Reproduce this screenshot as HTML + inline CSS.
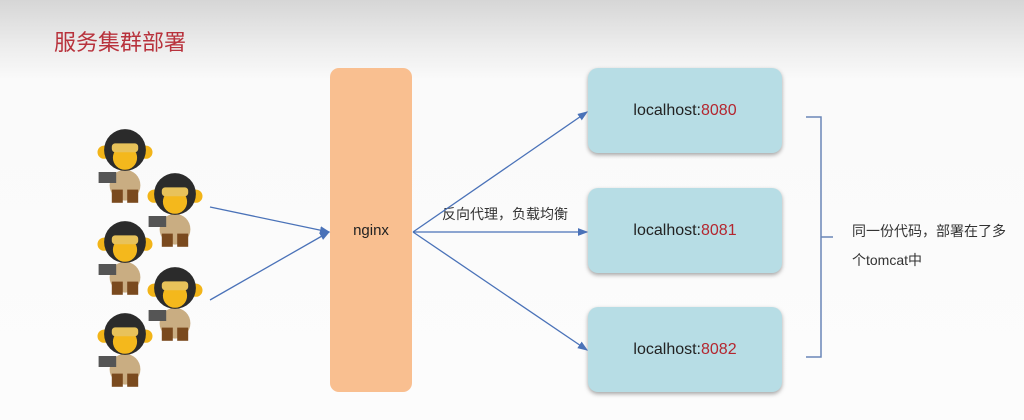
<!DOCTYPE html>
<html><head><meta charset="utf-8"><style>
body{margin:0;width:1024px;height:420px;overflow:hidden;font-family:"Liberation Sans","Noto Sans CJK SC",sans-serif;background:linear-gradient(#d6d6d6 0px,#ececec 45px,#fafafa 80px,#fcfcfc 420px);position:relative}
.t{position:absolute;left:54px;top:25px;font-size:22px;color:#b8323c}
.ng{position:absolute;left:330px;top:68px;width:82px;height:324px;background:#f9bf90;border-radius:9px}
.ng span{position:absolute;top:154px;width:100%;text-align:center;font-size:15px;color:#222}
.lb{position:absolute;left:588px;width:194px;height:85px;background:#b7dde5;border-radius:10px;box-shadow:0 2px 4px rgba(0,0,0,.35);font-size:16px;color:#222;text-align:center;line-height:85px}
.lb b{font-weight:normal;color:#b4262f}
.tx{position:absolute;font-size:14px;color:#333}
</style></head><body>
<div class="t">服务集群部署</div>
<div class="ng"><span>nginx</span></div>
<div class="lb" style="top:68px">localhost:<b>8080</b></div>
<div class="lb" style="top:188px">localhost:<b>8081</b></div>
<div class="lb" style="top:307px">localhost:<b>8082</b></div>
<div class="tx" style="left:442px;top:204px">反向代理，负载均衡</div>
<div class="tx" style="left:852px;top:221px">同一份代码，部署在了多</div>
<div class="tx" style="left:852px;top:250px">个tomcat中</div>
<svg width="1024" height="420" style="position:absolute;left:0;top:0">
<defs><marker id="a" markerWidth="8" markerHeight="8" refX="7" refY="4" orient="auto"><path d="M0,1 L8,4 L0,7z" fill="#4a72b8"/></marker>
<g id="m" transform="scale(1.1)">
<ellipse cx="0" cy="52" rx="14" ry="14" fill="#c9ad82"/>
<rect x="-12" y="56" width="10" height="12" fill="#7a4a1e"/><rect x="2" y="56" width="10" height="12" fill="#7a4a1e"/>
<rect x="-24" y="40" width="16" height="10" fill="#555"/>
<circle cx="-19" cy="22" r="6" fill="#f2b418"/><circle cx="19" cy="22" r="6" fill="#f2b418"/>
<circle cx="0" cy="20" r="19" fill="#2b2b2b"/>
<ellipse cx="0" cy="27" rx="11" ry="11" fill="#f4b81c"/>
<rect x="-12" y="14" width="24" height="8" rx="3" fill="#e8c25a"/>
</g></defs>
<use href="#m" x="125" y="128"/><use href="#m" x="175" y="172"/><use href="#m" x="125" y="220"/><use href="#m" x="175" y="266"/><use href="#m" x="125" y="312"/>
<g stroke="#4a72b8" stroke-width="1.3" fill="none" marker-end="url(#a)">
<line x1="210" y1="207" x2="329" y2="232"/><line x1="210" y1="300" x2="329" y2="232"/>
<line x1="413" y1="232" x2="587" y2="112"/><line x1="413" y1="232" x2="587" y2="232"/><line x1="413" y1="232" x2="587" y2="350"/>
</g>
<path d="M806,117 H821 V357 H806 M821,237 H833" stroke="#6a86b8" stroke-width="1.5" fill="none"/>
</svg>
</body></html>
